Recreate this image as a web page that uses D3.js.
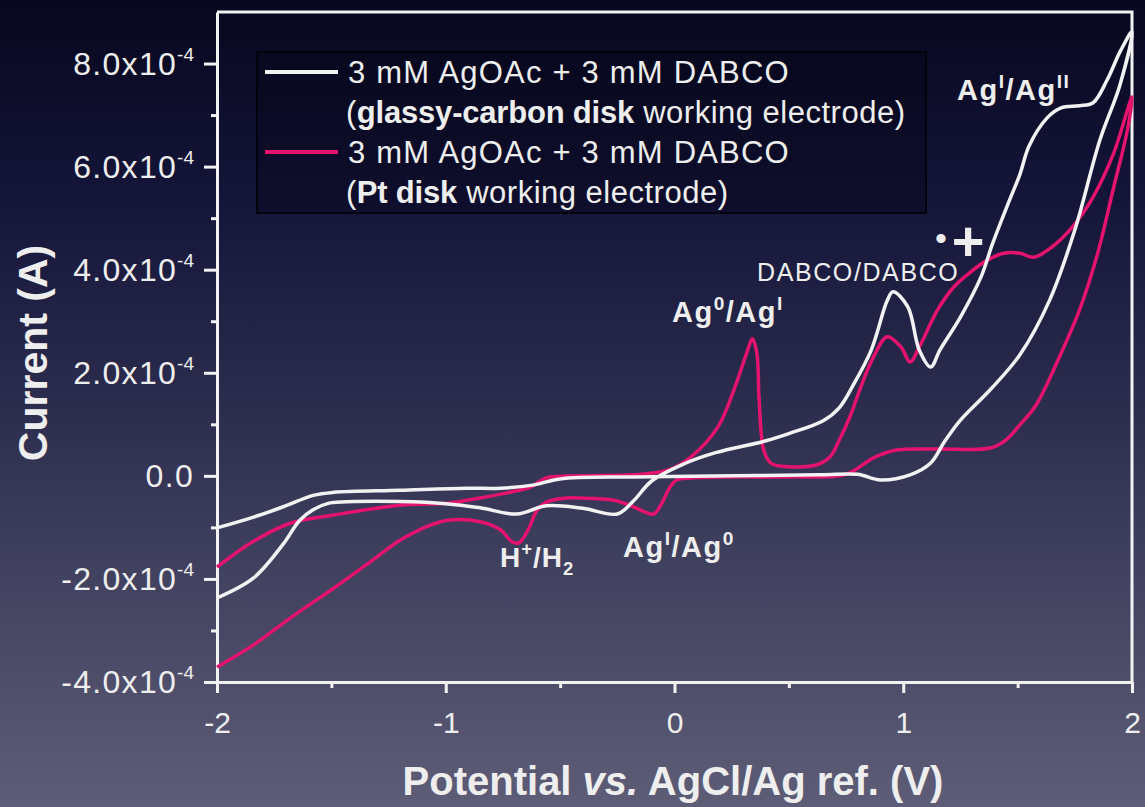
<!DOCTYPE html>
<html>
<head>
<meta charset="UTF-8">
<title>CV of AgOAc + DABCO</title>
<script src="https://cdn.jsdelivr.net/npm/d3@7"></script>
<style>
  body { margin: 0; background: #1c1c3a; }
  svg { display: block; font-family: "Liberation Sans", Arial, sans-serif; }
</style>
</head>
<body>
<script>
// potential (V vs AgCl/Ag), current in units of 1e-4 A
var glassyAnodic = [[-2.00,-2.37],[-1.84,-1.98],[-1.71,-1.32],[-1.64,-0.87],[-1.58,-0.66],[-1.51,-0.53],[-1.40,-0.50],
  [-1.20,-0.50],[-1.00,-0.54],[-0.85,-0.62],[-0.69,-0.74],[-0.56,-0.58],[-0.40,-0.63],[-0.25,-0.74],[-0.18,-0.49],
  [-0.10,-0.10],[0.04,0.23],[0.18,0.45],[0.40,0.68],[0.50,0.82],[0.65,1.07],[0.72,1.32],[0.78,1.75],[0.86,2.44],
  [0.93,3.40],[0.955,3.57],[1.02,3.28],[1.07,2.44],[1.12,2.11],[1.16,2.44],[1.25,3.08],[1.34,3.86],[1.39,4.50],
  [1.46,5.30],[1.51,5.85],[1.55,6.40],[1.63,6.95],[1.69,7.14],[1.77,7.18],[1.83,7.24],[1.89,7.67],[1.95,8.25],[2.00,8.62]];
var glassyCathodic = [[2.00,8.62],[1.947,7.58],[1.86,6.52],[1.75,4.77],[1.64,3.41],[1.51,2.35],[1.38,1.67],[1.25,1.08],
  [1.18,0.66],[1.12,0.25],[1.03,0.02],[0.90,-0.08],[0.80,0.03],[0.64,0.02],[0.26,0.00],[-0.18,-0.02],[-0.50,-0.06],
  [-0.62,-0.18],[-0.76,-0.24],[-0.91,-0.24],[-1.20,-0.28],[-1.49,-0.32],[-1.58,-0.38],[-1.71,-0.60],[-1.84,-0.80],[-2.00,-1.01]];
var ptAnodic = [[-2.00,-1.77],[-1.84,-1.27],[-1.68,-0.92],[-1.49,-0.76],[-1.20,-0.57],[-0.99,-0.53],[-0.85,-0.43],
  [-0.71,-0.31],[-0.63,-0.22],[-0.56,-0.04],[-0.41,0.00],[-0.18,0.02],[-0.03,0.11],[0.07,0.36],[0.19,0.95],[0.26,1.67],
  [0.32,2.44],[0.34,2.66],[0.36,2.38],[0.37,1.47],[0.39,0.50],[0.42,0.25],[0.46,0.19],[0.62,0.21],[0.68,0.37],
  [0.72,0.69],[0.77,1.18],[0.81,1.67],[0.87,2.31],[0.93,2.70],[0.99,2.50],[1.03,2.21],[1.07,2.50],[1.15,3.22],
  [1.22,3.66],[1.29,3.94],[1.37,4.19],[1.44,4.32],[1.51,4.32],[1.57,4.24],[1.65,4.44],[1.74,4.83],[1.83,5.41],
  [1.92,6.26],[2.00,7.35]];
var ptCathodic = [[2.00,7.35],[1.98,6.71],[1.92,5.60],[1.85,4.32],[1.77,3.21],[1.69,2.38],[1.58,1.37],[1.51,0.99],
  [1.45,0.70],[1.38,0.54],[1.16,0.52],[0.97,0.50],[0.87,0.35],[0.75,0.03],[0.50,-0.02],[0.26,-0.02],[0.07,-0.04],
  [0.01,-0.08],[-0.02,-0.22],[-0.06,-0.57],[-0.09,-0.74],[-0.13,-0.70],[-0.18,-0.60],[-0.27,-0.47],[-0.41,-0.43],
  [-0.47,-0.43],[-0.56,-0.51],[-0.60,-0.66],[-0.64,-1.05],[-0.68,-1.30],[-0.71,-1.28],[-0.76,-1.05],[-0.85,-0.89],
  [-0.99,-0.86],[-1.07,-0.96],[-1.20,-1.25],[-1.33,-1.67],[-1.49,-2.18],[-1.68,-2.76],[-1.84,-3.28],[-2.00,-3.71]];

var potentialTicks = [-2, -1, 0, 1, 2];
var potentialMinor = [-1.5, -0.5, 0.5, 1.5];
var currentTicks = [-4, -2, 0, 2, 4, 6, 8];
var currentMinor = [-3, -1, 1, 3, 5, 7];
var seriesNames = ["3 mM AgOAc + 3 mM DABCO", "3 mM AgOAc + 3 mM DABCO"];

var W = 1145, H = 807;
var WHITE = "#f2f2f2", PINK = "#e4136d";
var FONT_COL = "#eeeeee";

var svg = d3.select("body").append("svg").attr("width", W).attr("height", H);

var grad = svg.append("defs").append("linearGradient")
  .attr("id", "bg").attr("x1", 0).attr("y1", 0).attr("x2", 0).attr("y2", 1);
grad.append("stop").attr("offset", "0").attr("stop-color", "#07071e");
grad.append("stop").attr("offset", "0.25").attr("stop-color", "#15153a");
grad.append("stop").attr("offset", "0.5").attr("stop-color", "#2c2c4e");
grad.append("stop").attr("offset", "0.75").attr("stop-color", "#454563");
grad.append("stop").attr("offset", "1").attr("stop-color", "#5d5d77");
svg.append("rect").attr("width", W).attr("height", H).attr("fill", "url(#bg)");

var x = d3.scaleLinear().domain([-2, 2]).range([217, 1132]);
var y = d3.scaleLinear().domain([-4, 9]).range([682, 12]);

// frame top & right
svg.append("path")
  .attr("d", "M" + x(-2) + "," + y(9) + "H" + x(2) + "V" + y(-4))
  .attr("fill", "none").attr("stroke", WHITE).attr("stroke-width", 3);

// minor ticks
svg.append("g").attr("transform", "translate(0," + y(-4) + ")")
  .call(d3.axisBottom(x).tickValues(potentialMinor).tickSize(6).tickSizeOuter(0).tickFormat(""))
  .call(function(g){ g.select(".domain").remove(); g.selectAll("line").attr("stroke", WHITE).attr("stroke-width", 3); });
svg.append("g").attr("transform", "translate(" + x(-2) + ",0)")
  .call(d3.axisLeft(y).tickValues(currentMinor).tickSize(6).tickSizeOuter(0).tickFormat(""))
  .call(function(g){ g.select(".domain").remove(); g.selectAll("line").attr("stroke", WHITE).attr("stroke-width", 3); });

// x axis
var xg = svg.append("g").attr("transform", "translate(0," + y(-4) + ")")
  .call(d3.axisBottom(x).tickValues(potentialTicks).tickSize(11).tickSizeOuter(0).tickPadding(19)
    .tickFormat(function(d){ return String(d).replace("\u2212", "-"); }));
xg.select(".domain").attr("stroke", WHITE).attr("stroke-width", 3);
xg.selectAll("line").attr("stroke", WHITE).attr("stroke-width", 3);
xg.selectAll("text").attr("fill", FONT_COL).attr("font-size", 30).attr("font-family", null);

// y axis
var yg = svg.append("g").attr("transform", "translate(" + x(-2) + ",0)")
  .call(d3.axisLeft(y).tickValues(currentTicks).tickSize(13).tickSizeOuter(0).tickPadding(10));
yg.select(".domain").attr("stroke", WHITE).attr("stroke-width", 3);
yg.selectAll("line").attr("stroke", WHITE).attr("stroke-width", 3);
yg.selectAll("text").each(function(d){
  var t = d3.select(this).text("").attr("fill", FONT_COL).attr("font-size", 32)
    .attr("font-family", null).attr("letter-spacing", 1.3).attr("dy", "0.34em");
  if (d === 0) { t.text("0.0"); return; }
  t.append("tspan").text(d.toFixed(1) + "x10");
  t.append("tspan").attr("dy", -14).attr("font-size", 19).attr("letter-spacing", 0).text("-4");
});

// curves
var line = d3.line().x(function(d){ return x(d[0]); }).y(function(d){ return y(d[1]); })
  .curve(d3.curveCatmullRom.alpha(0.5));
var loops = [
  { pts: ptAnodic.concat(ptCathodic.slice(1)), color: PINK },
  { pts: glassyAnodic.concat(glassyCathodic.slice(1)), color: WHITE }
];
svg.append("g").selectAll("path").data(loops).join("path")
  .attr("d", function(d){ return line(d.pts); })
  .attr("fill", "none").attr("stroke", function(d){ return d.color; })
  .attr("stroke-width", 3.5).attr("stroke-linejoin", "round");

// axis titles
svg.append("text").attr("x", 673).attr("y", 795).attr("text-anchor", "middle")
  .attr("fill", FONT_COL).attr("font-size", 40).attr("font-weight", "bold")
  .call(function(t){
    t.append("tspan").text("Potential ");
    t.append("tspan").attr("font-style", "italic").text("vs.");
    t.append("tspan").text(" AgCl/Ag ref. (V)");
  });
svg.append("text").attr("transform", "translate(47,353) rotate(-90)").attr("text-anchor", "middle")
  .attr("fill", FONT_COL).attr("font-size", 41).attr("font-weight", "bold").text("Current (A)");

// legend
var lg = svg.append("g");
lg.append("rect").attr("x", 257).attr("y", 52).attr("width", 669).attr("height", 161)
  .attr("fill", "rgba(4,4,20,0.35)").attr("stroke", "#03030d").attr("stroke-width", 2);
var legendRows = [
  { color: WHITE, name: seriesNames[0], bold: "glassy-carbon disk", y: 83 },
  { color: PINK, name: seriesNames[1], bold: "Pt disk", y: 163 }
];
legendRows.forEach(function(r){
  lg.append("line").attr("x1", 265).attr("x2", 338).attr("y1", r.y - 11).attr("y2", r.y - 11)
    .attr("stroke", r.color).attr("stroke-width", 4);
  lg.append("text").attr("x", 348).attr("y", r.y).attr("fill", FONT_COL)
    .attr("font-size", 31).attr("letter-spacing", 1.2).text(r.name);
  var t = lg.append("text").attr("x", 346).attr("y", r.y + 40).attr("fill", FONT_COL)
    .attr("font-size", 31).attr("letter-spacing", 0.5);
  t.append("tspan").text("(");
  t.append("tspan").attr("font-weight", "bold").attr("letter-spacing", -0.2).text(r.bold);
  t.append("tspan").text(" working electrode)");
});

// peak annotations
function label(xp, yp, parts, size, weight, ls) {
  var t = svg.append("text").attr("x", xp).attr("y", yp).attr("fill", FONT_COL)
    .attr("font-size", size).attr("font-weight", weight).attr("letter-spacing", ls);
  var shift = 0;
  parts.forEach(function(p){
    var target = p[1] === "sup" ? -0.42 * size : p[1] === "sub" ? 0.3 * size : 0;
    var s = t.append("tspan").attr("dy", target - shift).text(p[0]);
    if (p[1]) s.attr("font-size", size * 0.66);
    shift = target;
  });
}
label(957, 100, [["Ag"], ["I", "sup"], ["/Ag"], ["II", "sup"]], 29, "bold", 1.5);
label(672, 322, [["Ag"], ["0", "sup"], ["/Ag"], ["I", "sup"]], 29, "bold", 1.5);
label(623, 557, [["Ag"], ["I", "sup"], ["/Ag"], ["0", "sup"]], 29, "bold", 1.5);
label(500, 567, [["H"], ["+", "sup"], ["/H"], ["2", "sub"]], 28, "bold", 1);
label(757, 281, [["DABCO/DABCO"]], 25, "normal", 1.6);
svg.append("text").attr("x", 941).attr("y", 238).attr("text-anchor", "middle").attr("dominant-baseline", "central")
  .attr("fill", FONT_COL).attr("font-size", 34).text("\u2022");
svg.append("text").attr("x", 968).attr("y", 240).attr("text-anchor", "middle").attr("dominant-baseline", "central")
  .attr("fill", FONT_COL).attr("font-size", 56).attr("font-weight", "bold").text("+");
</script>
</body>
</html>
